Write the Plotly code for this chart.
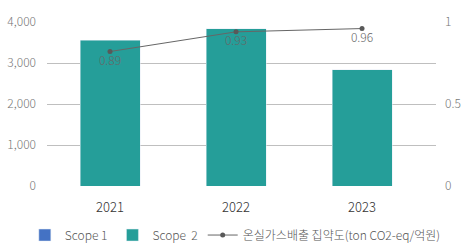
import plotly.graph_objects as go

years = ["2021", "2022", "2023"]
scope1 = [0, 0, 0]
scope2 = [3560, 3830, 2830]
intensity = [0.82, 0.94, 0.96]
intensity_labels = ["0.89", "0.93", "0.96"]

FONT = "Noto Sans CJK KR"

fig = go.Figure()
fig.add_trace(go.Bar(x=years, y=scope1, name="Scope 1", marker_color="#4472C4",
                     width=0.476, yaxis="y"))
fig.add_trace(go.Bar(x=years, y=scope2, name="Scope  2", marker_color="#259E99",
                     width=0.476, yaxis="y"))
fig.add_trace(go.Scatter(x=years, y=intensity, name="온실가스배출 집약도(ton CO2-eq/억원)",
                         mode="lines+markers+text", text=intensity_labels,
                         textposition="bottom center",
                         textfont=dict(size=12, color="#666666", family=FONT, weight=300),
                         line=dict(color="#666666", width=1),
                         marker=dict(size=5, color="#595959"), yaxis="y2"))

fig.update_layout(
    width=471, height=244,
    margin=dict(l=47, r=35, t=22, b=58, autoexpand=False),
    paper_bgcolor="white", plot_bgcolor="white",
    barmode="stack",
    font=dict(family=FONT, size=12, color="#666666", weight=300),
    xaxis=dict(type="category", range=[-0.5, 2.587], showgrid=False,
               tickfont=dict(size=13, color="#333333", weight=300), ticks="", showline=False,
               ticklabelstandoff=12),
    yaxis=dict(range=[0, 4000], tickvals=[0, 1000, 2000, 3000, 4000],
               tickformat=",", gridcolor="#BFBFBF", gridwidth=1, zeroline=False,
               tickfont=dict(size=12, color="#777777", weight=300), ticklabelstandoff=10),
    yaxis2=dict(range=[0, 1], tickvals=[0, 0.5, 1], ticktext=["0", "0.5", "1"],
                overlaying="y", side="right", showgrid=False, zeroline=False,
                tickfont=dict(size=12, color="#777777", weight=300), ticklabelstandoff=8),
    legend=dict(orientation="h", x=-0.057, xanchor="left",
                y=-0.299, yanchor="middle",
                font=dict(size=12, color="#555555", weight=300), traceorder="normal",
                itemwidth=30),
    showlegend=True,
)

fig.write_html("out.html")
